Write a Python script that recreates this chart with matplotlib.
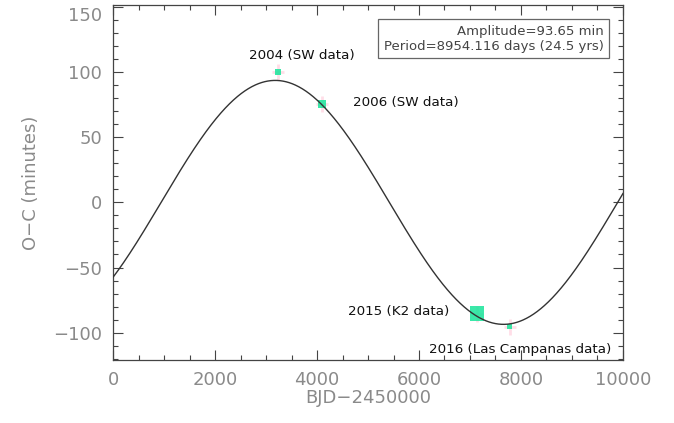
import numpy as np
import matplotlib.pyplot as plt
import matplotlib.transforms as mtransforms
from matplotlib.ticker import MultipleLocator

# sinusoidal O-C model
amplitude = 93.65      # minutes
period = 8954.116      # days
t_zero = 942.0         # BJD-2450000 of upward zero crossing

# observed epochs
obs_labels = ['2004 (SW data)', '2006 (SW data)', '2015 (K2 data)', '2016 (Las Campanas data)']
obs_bjd = [3235, 4098, 7137, 7780]
obs_oc = [100.0, 75.5, -85.5, -95.5]
obs_size = [22, 40, 110, 14]

t = np.linspace(0, 10000, 1000)
oc = amplitude * np.sin(2 * np.pi * (t - t_zero) / period)

fig = plt.figure(figsize=(6.74, 4.23), dpi=100)
ax = fig.add_axes([0.1677, 0.149, 0.7566, 0.839])

axis_grey = '#8a8a8a'
green = '#19e59a'

ax.plot(t, oc, color='#333333', lw=1.0, zorder=3)
ax.errorbar(obs_bjd, obs_oc, yerr=6, xerr=120, fmt='none', ecolor='#ffc8d8',
            elinewidth=2, alpha=0.6, zorder=1)
ax.scatter(obs_bjd, obs_oc, s=obs_size, marker='s', color=green, edgecolors='none',
           alpha=0.85, zorder=2)

ax.set_xlim(0, 10000)
ax.set_ylim(-121, 151.5)
ax.xaxis.set_major_locator(MultipleLocator(2000))
ax.xaxis.set_minor_locator(MultipleLocator(500))
ax.yaxis.set_major_locator(MultipleLocator(50))
ax.yaxis.set_minor_locator(MultipleLocator(10))
ax.tick_params(which='both', direction='in', top=True, right=True, color='#444444')
ax.tick_params(which='major', length=7, width=0.8)
ax.tick_params(which='minor', length=3.5, width=0.8)
ax.tick_params(axis='both', labelsize=13, labelcolor=axis_grey, pad=8)
ax.set_yticks([-100, -50, 0, 50, 100, 150])
ax.set_yticklabels(['\u2212100', '\u221250', '0', '50', '100', '150'])
# nudge the top label down so it stays on the canvas
top_lab = ax.get_yticklabels()[-1]
top_lab.set_transform(top_lab.get_transform() +
                      mtransforms.ScaledTranslation(0, -5 / 72, fig.dpi_scale_trans))
for s in ax.spines.values():
    s.set_color('#444444')
    s.set_linewidth(0.9)

ax.set_xlabel('BJD\u22122450000', fontsize=13, color=axis_grey, labelpad=0)
ax.set_ylabel('O\u2212C (minutes)', fontsize=13, color=axis_grey, labelpad=9)

# epoch labels
ax.text(3700, 108, obs_labels[0], fontsize=9.7, ha='center', va='bottom', color='#111111')
ax.text(4700, 77, obs_labels[1], fontsize=9.7, ha='left', va='center', color='#111111')
ax.text(4600, -84, obs_labels[2], fontsize=9.7, ha='left', va='center', color='#111111')
ax.text(6200, -113, obs_labels[3], fontsize=9.7, ha='left', va='center', color='#111111')

ax.text(0.962, 0.945, 'Amplitude=%.2f min\nPeriod=%.3f days (%.1f yrs)' % (amplitude, period, period / 365.25),
        transform=ax.transAxes, ha='right', va='top', fontsize=9.5, color='#444444',
        multialignment='right', linespacing=1.25,
        bbox=dict(boxstyle='square,pad=0.4', fc='white', ec='#666666', lw=0.9))

fig.savefig('out.png', dpi=100)
